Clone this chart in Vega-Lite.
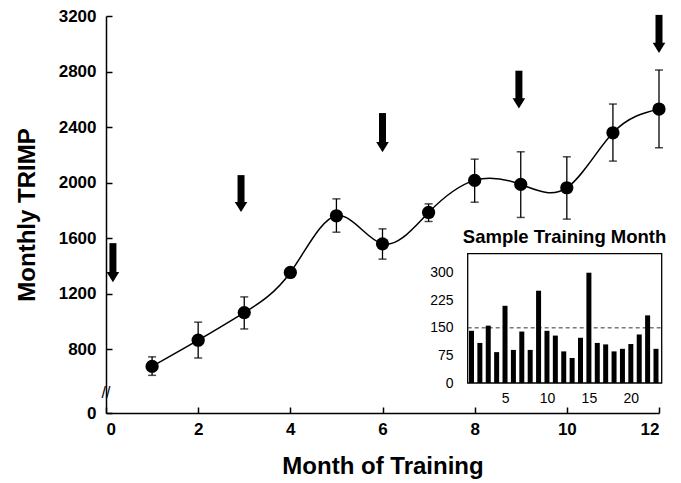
{
  "$schema": "https://vega.github.io/schema/vega-lite/v6.json",
  "width": 553,
  "height": 397,
  "autosize": {"type": "none"},
  "padding": {"left": 106, "top": 16, "right": 22, "bottom": 70},
  "background": "white",
  "config": {
    "view": {"stroke": null},
    "font": "Liberation Sans",
    "axis": {"grid": false, "domainColor": "black", "tickColor": "black", "labelColor": "black", "titleColor": "black"}
  },
  "datasets": {
    "main": [
      {"month": 1, "trimp": 676, "lo": 612, "hi": 745},
      {"month": 2, "trimp": 865, "lo": 737, "hi": 995},
      {"month": 3, "trimp": 1064, "lo": 946, "hi": 1177},
      {"month": 4, "trimp": 1353, "lo": 1325, "hi": 1380},
      {"month": 5, "trimp": 1761, "lo": 1643, "hi": 1883},
      {"month": 6, "trimp": 1559, "lo": 1449, "hi": 1667},
      {"month": 7, "trimp": 1785, "lo": 1720, "hi": 1847},
      {"month": 8, "trimp": 2016, "lo": 1859, "hi": 2169},
      {"month": 9, "trimp": 1987, "lo": 1749, "hi": 2222},
      {"month": 10, "trimp": 1963, "lo": 1737, "hi": 2186},
      {"month": 11, "trimp": 2359, "lo": 2155, "hi": 2566},
      {"month": 12, "trimp": 2530, "lo": 2251, "hi": 2811}
    ],
    "arrows": [
      {"month": 0.15, "top": 1564, "tip": 1283},
      {"month": 2.93, "top": 2054, "tip": 1788},
      {"month": 6.0, "top": 2501, "tip": 2220},
      {"month": 8.96, "top": 2806, "tip": 2535},
      {"month": 12.0, "top": 3208, "tip": 2934}
    ],
    "sample": [
      {"day": 1, "load": 142}, {"day": 2, "load": 109}, {"day": 3, "load": 156},
      {"day": 4, "load": 84}, {"day": 5, "load": 210}, {"day": 6, "load": 90},
      {"day": 7, "load": 140}, {"day": 8, "load": 90}, {"day": 9, "load": 251},
      {"day": 10, "load": 142}, {"day": 11, "load": 129}, {"day": 12, "load": 86},
      {"day": 13, "load": 68}, {"day": 14, "load": 123}, {"day": 15, "load": 300},
      {"day": 16, "load": 109}, {"day": 17, "load": 105}, {"day": 18, "load": 86},
      {"day": 19, "load": 93}, {"day": 20, "load": 106}, {"day": 21, "load": 132},
      {"day": 22, "load": 184}, {"day": 23, "load": 93}
    ]
  },
  "layer": [
    {
      "layer": [
        {
          "data": {"values": [{"ref": 2854}]},
          "mark": {"type": "rule", "color": "#333", "strokeWidth": 1},
          "encoding": {"y": {"field": "ref", "type": "quantitative"}}
        },
        {
          "data": {"values": [{"ref": 940}]},
          "mark": {"type": "rule", "color": "#333", "strokeWidth": 1, "strokeDash": [4, 3]},
          "encoding": {"y": {"field": "ref", "type": "quantitative"}}
        },
        {
          "data": {"name": "main"},
          "mark": {"type": "rule", "color": "black", "strokeWidth": 1.3},
          "encoding": {
            "x": {"field": "month", "type": "quantitative"},
            "y": {"field": "lo", "type": "quantitative"},
            "y2": {"field": "hi"}
          }
        },
        {
          "data": {"name": "main"},
          "mark": {"type": "tick", "orient": "horizontal", "color": "black", "size": 8, "thickness": 1.5},
          "encoding": {
            "x": {"field": "month", "type": "quantitative"},
            "y": {"field": "lo", "type": "quantitative"}
          }
        },
        {
          "data": {"name": "main"},
          "mark": {"type": "tick", "orient": "horizontal", "color": "black", "size": 8, "thickness": 1.5},
          "encoding": {
            "x": {"field": "month", "type": "quantitative"},
            "y": {"field": "hi", "type": "quantitative"}
          }
        },
        {
          "data": {"name": "main"},
          "mark": {"type": "line", "color": "black", "strokeWidth": 1.5, "interpolate": "natural"},
          "encoding": {
            "x": {"field": "month", "type": "quantitative"},
            "y": {"field": "trimp", "type": "quantitative"}
          }
        },
        {
          "data": {"name": "main"},
          "mark": {"type": "point", "filled": true, "color": "black", "opacity": 1, "size": 175},
          "encoding": {
            "x": {"field": "month", "type": "quantitative"},
            "y": {"field": "trimp", "type": "quantitative"}
          }
        },
        {
          "data": {"name": "arrows"},
          "mark": {"type": "rule", "color": "black", "strokeWidth": 7, "y2Offset": -8},
          "encoding": {
            "x": {"field": "month", "type": "quantitative"},
            "y": {"field": "top", "type": "quantitative"},
            "y2": {"field": "tip"}
          }
        },
        {
          "data": {"name": "arrows"},
          "mark": {"type": "point", "filled": true, "color": "black", "opacity": 1, "shape": "M-1,-0.8L1,-0.8L0,0.8Z", "size": 160, "yOffset": -5},
          "encoding": {
            "x": {"field": "month", "type": "quantitative"},
            "y": {"field": "tip", "type": "quantitative"}
          }
        },
        {
          "data": {"values": [{"month": 0, "v": 330}]},
          "mark": {"type": "text", "text": "//", "fontSize": 16, "color": "black", "align": "center", "baseline": "middle"},
          "encoding": {
            "x": {"field": "month", "type": "quantitative"},
            "y": {"field": "v", "type": "quantitative"}
          }
        }
      ],
      "encoding": {
        "x": {
          "field": "month", "type": "quantitative",
          "scale": {"domain": [0, 12], "nice": false, "zero": false},
          "axis": {
            "title": "Month of Training", "values": [0, 2, 4, 6, 8, 10, 12],
            "tickSize": -6, "labelPadding": 14, "domainWidth": 1.5, "tickWidth": 1.5,
            "labelFontSize": 17, "labelFontWeight": "bold", "labelFont": "Liberation Sans",
            "titleFontSize": 24, "titleFontWeight": "bold", "titleFont": "Liberation Sans", "titlePadding": 17
          }
        },
        "y": {
          "type": "quantitative",
          "scale": {"domain": [0, 600, 3200], "range": [397, 361, 0], "nice": false, "zero": false},
          "axis": {
            "title": "Monthly TRIMP", "values": [0, 800, 1200, 1600, 2000, 2400, 2800, 3200], "format": "d",
            "tickSize": -6, "labelPadding": 16, "domainWidth": 1.5, "tickWidth": 1.5,
            "labelFontSize": 17, "labelFontWeight": "bold", "labelFont": "Liberation Sans",
            "titleFontSize": 24, "titleFontWeight": "bold", "titleFont": "Liberation Sans", "titlePadding": 19
          }
        }
      }
    },
    {
      "layer": [
        {
          "data": {"values": [{"x0": 0.55, "x1": 23.68, "y0": 0, "y1": 352}]},
          "mark": {"type": "rect", "fill": "white", "stroke": "black", "strokeWidth": 1.3},
          "encoding": {
            "x": {"field": "x0", "type": "quantitative"},
            "x2": {"field": "x1"},
            "y": {"field": "y0", "type": "quantitative"},
            "y2": {"field": "y1"}
          }
        },
        {
          "data": {"values": [{"ref": 150}]},
          "mark": {"type": "rule", "color": "#333", "strokeWidth": 1, "strokeDash": [4, 3]},
          "encoding": {
            "x": {"datum": 0.55, "type": "quantitative"},
            "x2": {"datum": 23.68},
            "y": {"field": "ref", "type": "quantitative"}
          }
        },
        {
          "data": {"name": "sample"},
          "mark": {"type": "bar", "color": "black", "size": 5},
          "encoding": {
            "x": {"field": "day", "type": "quantitative"},
            "y": {"field": "load", "type": "quantitative"}
          }
        },
        {
          "data": {"values": [{"x": 12.1, "y": 396, "label": "Sample Training Month"}]},
          "mark": {"type": "text", "fontSize": 18.5, "fontWeight": "bold", "font": "Liberation Sans", "color": "black", "align": "center", "baseline": "middle"},
          "encoding": {
            "x": {"field": "x", "type": "quantitative"},
            "y": {"field": "y", "type": "quantitative"},
            "text": {"field": "label"}
          }
        }
      ],
      "encoding": {
        "x": {
          "type": "quantitative",
          "scale": {"domain": [0.55, 23.68], "range": [356.7, 560.7], "nice": false, "zero": false},
          "axis": {
            "orient": "bottom", "offset": -30, "title": null, "values": [5, 10, 15, 20],
            "domain": false, "ticks": false, "labelPadding": 8,
            "labelFontSize": 14, "labelFont": "Liberation Sans"
          }
        },
        "y": {
          "type": "quantitative",
          "scale": {"domain": [0, 352], "range": [367, 237.6], "nice": false, "zero": true},
          "axis": {
            "orient": "left", "offset": -356, "title": null, "values": [0, 75, 150, 225, 300],
            "domain": false, "ticks": false, "labelPadding": 9,
            "labelFontSize": 14, "labelFont": "Liberation Sans"
          }
        }
      }
    }
  ],
  "resolve": {"scale": {"x": "independent", "y": "independent"}, "axis": {"x": "independent", "y": "independent"}}
}
